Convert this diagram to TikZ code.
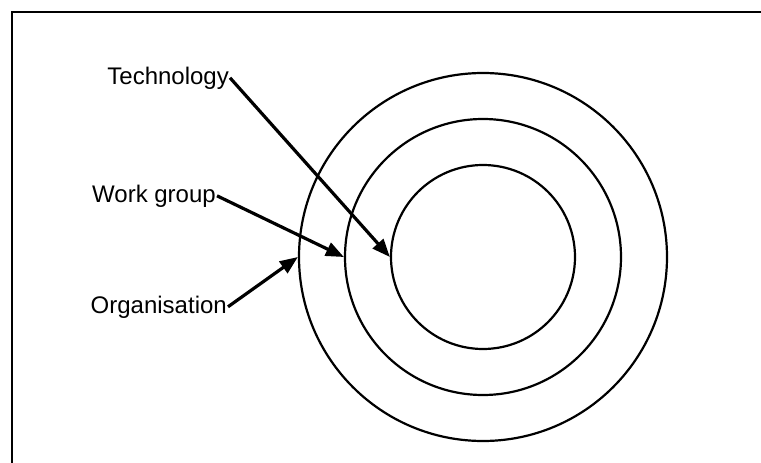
\documentclass[tikz,border=0pt]{standalone}
\usepackage{fontspec}
\setmainfont{Liberation Sans}
\usetikzlibrary{arrows.meta, positioning}
\tikzstyle{ring}  = [circle, draw=black, line width=2.2pt, inner sep=0pt]
\tikzstyle{arrow} = [line width=3.2pt, -{Triangle[length=18pt,width=14pt]}]

\begin{document}
\begin{tikzpicture}[x=1pt, y=-1pt,
    lbl/.style={inner sep=1pt, anchor=base east, font=\fontsize{24}{28}\selectfont}]
  \useasboundingbox (0,0) rectangle (761,463);
  \draw[line width=1.8pt] (12,463) -- (12,12) -- (761,12);

  \node[ring, minimum size=368pt] (org)  at (483,257) {};
  \node[ring, minimum size=276pt] (grp)  at (483,257) {};
  \node[ring, minimum size=184pt] (tech) at (483,257) {};

  \node[lbl] (techlbl) at (230,84)  {Technology};
  \node[lbl] (grplbl)  at (217,202) {Work group};
  \node[lbl] (orglbl)  at (228,313) {Organisation};

  \draw[arrow] (techlbl.east) -- (tech.west);
  \draw[arrow] (grplbl.east)  -- (grp.west);
  \draw[arrow] (orglbl.east)  -- (org.west);
\end{tikzpicture}
\end{document}
